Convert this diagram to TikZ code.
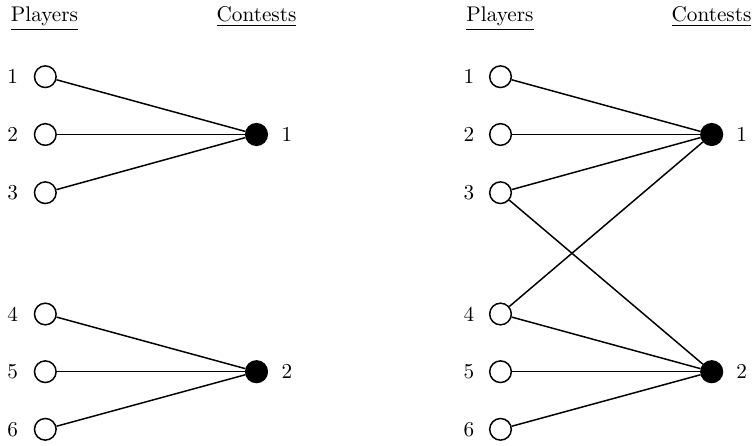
\documentclass[tikz,border=0pt]{standalone}
\begin{document}
\begin{tikzpicture}[x=0.4717pt,y=-0.4717pt,
  player/.style={circle,draw,line width=0.7pt,fill=white,minimum size=10.2pt,inner sep=0pt},
  contest/.style={circle,draw,line width=0.7pt,fill=black,minimum size=10.2pt,inner sep=0pt},
  edge/.style={line width=0.7pt},
  lbl/.style={inner sep=0pt},
  hdr/.style={inner sep=0pt,anchor=base}]
\useasboundingbox (0,0) rectangle (754,446);
% headers
\node[hdr] (hp1) at (44.5,21.7) {\underline{Players}};
\node[hdr] (hc1) at (256.5,21.7) {\underline{Contests}};
\node[hdr] (hp2) at (500,21.7) {\underline{Players}};
\node[hdr] (hc2) at (711.5,21.7) {\underline{Contests}};
% player nodes and labels
\foreach \i/\y in {1/76.7,2/134.5,3/192.7,4/314,5/371.7,6/429.3}{
  \node[player] (Lp\i) at (45.3,\y) {};
  \node[lbl] (Lpl\i) at (12.7,\y) {\i};
  \node[player] (Rp\i) at (500.5,\y) {};
  \node[lbl] (Rpl\i) at (469,\y) {\i};
}
\node[contest] (Lc1) at (256.5,134.5) {};
\node[contest] (Lc2) at (256.5,371.7) {};
\node[lbl] (Lcl1) at (287,134.5) {1};
\node[lbl] (Lcl2) at (287,371.7) {2};
\node[contest] (Rc1) at (711.7,134.5) {};
\node[contest] (Rc2) at (711.7,371.7) {};
\node[lbl] (Rcl1) at (741.7,134.5) {1};
\node[lbl] (Rcl2) at (741.7,371.7) {2};
\draw[edge] (Lp1) -- (Lc1);
\draw[edge] (Lp2) -- (Lc1);
\draw[edge] (Lp3) -- (Lc1);
\draw[edge] (Lp4) -- (Lc2);
\draw[edge] (Lp5) -- (Lc2);
\draw[edge] (Lp6) -- (Lc2);
\draw[edge] (Rp1) -- (Rc1);
\draw[edge] (Rp2) -- (Rc1);
\draw[edge] (Rp3) -- (Rc1);
\draw[edge] (Rp4) -- (Rc1);
\draw[edge] (Rp3) -- (Rc2);
\draw[edge] (Rp4) -- (Rc2);
\draw[edge] (Rp5) -- (Rc2);
\draw[edge] (Rp6) -- (Rc2);
\end{tikzpicture}
\end{document}
